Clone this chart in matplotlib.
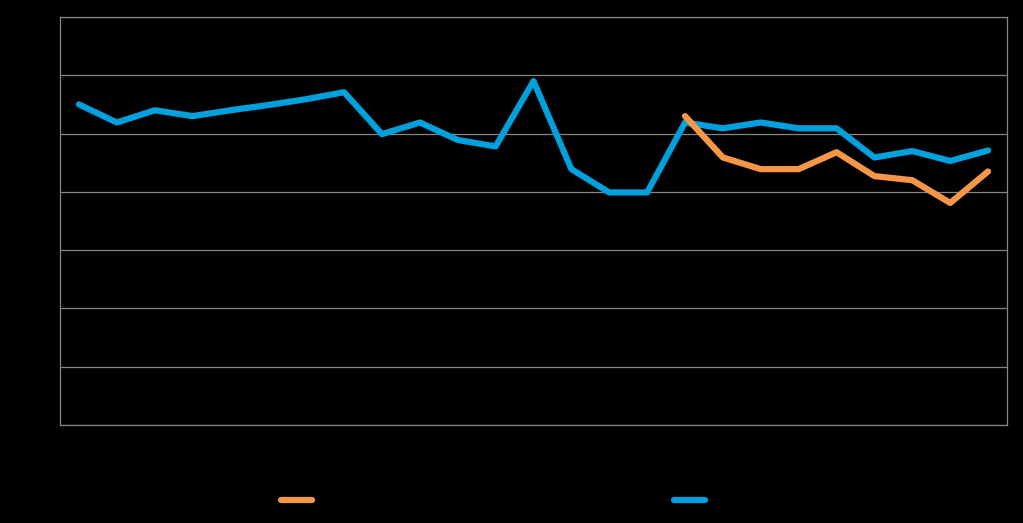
import numpy as np
from matplotlib import pyplot as plt

# 25 periods on a category axis
periods = [str(i + 1) for i in range(25)]

blue_vals = [55.0, 51.9, 54.0, 53.0, 54.0, 54.9, 55.9, 57.1, 49.9, 51.9,
             48.9, 47.8, 59.0, 43.9, 39.9, 39.9, 51.9, 50.9, 51.9, 50.9,
             50.9, 45.9, 47.0, 45.3, 47.1]
orange_start = 16
orange_vals = [53.0, 45.9, 43.9, 43.9, 46.8, 42.7, 42.0, 38.1, 43.5]

series_names = ['Series 1', 'Series 2']

fig = plt.figure(figsize=(10.23, 5.23), dpi=100, facecolor='black')
ax = fig.add_axes([60 / 1023, 1 - 425 / 523, 947 / 1023, 408 / 523])
ax.set_facecolor('black')

x = np.arange(len(periods))
ax.plot(x[orange_start:orange_start + len(orange_vals)], orange_vals,
        color='#F79646', lw=4.5, solid_capstyle='round', solid_joinstyle='round',
        label=series_names[0], zorder=3)
ax.plot(x, blue_vals, color='#00A0DC', lw=4.5, solid_capstyle='round',
        solid_joinstyle='round', label=series_names[1], zorder=2)

ax.set_xlim(-0.5, len(periods) - 0.5)
ax.set_ylim(0, 70)
ax.set_yticks(np.arange(0, 71, 10))
ax.grid(axis='y', color='#868686', lw=0.9)
ax.set_axisbelow(True)
ax.tick_params(length=0, labelcolor='black')
ax.set_xticks(x)
ax.set_xticklabels(periods)
for s in ax.spines.values():
    s.set_color('#868686')
    s.set_linewidth(0.9)

leg = ax.legend(loc='center', bbox_to_anchor=(0.4926, -0.185), ncol=2, frameon=False,
                handlelength=2.2, columnspacing=21.3, labelcolor='black')

fig.savefig('out.png', dpi=100, facecolor='black')
